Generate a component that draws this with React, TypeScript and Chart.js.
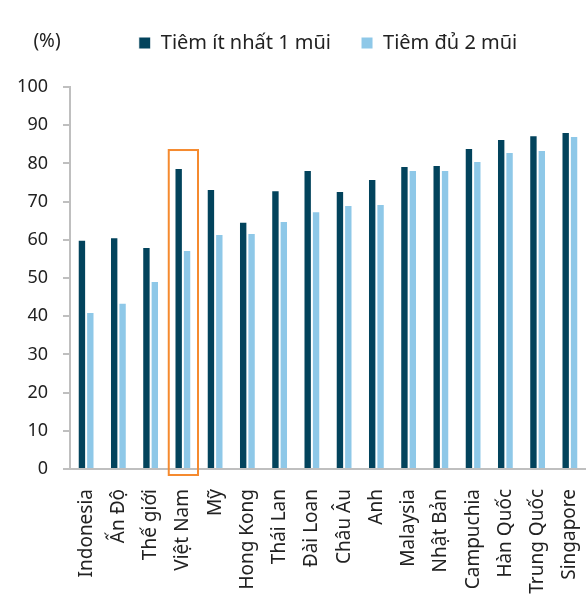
import React, { useEffect, useRef } from "react";
import { Chart, registerables } from "chart.js";

Chart.register(...registerables);

const categories = [
  "Indonesia",
  "Ấn Độ",
  "Thế giới",
  "Việt Nam",
  "Mỹ",
  "Hong Kong",
  "Thái Lan",
  "Đài Loan",
  "Châu Âu",
  "Anh",
  "Malaysia",
  "Nhật Bản",
  "Campuchia",
  "Hàn Quốc",
  "Trung Quốc",
  "Singapore",
];

const atLeastOneDose = [60.0, 60.7, 58.1, 78.8, 73.3, 64.7, 73.0, 78.3, 72.8, 75.9, 79.3, 79.6, 84.0, 86.4, 87.4, 88.2];
const fullyVaccinated = [41.1, 43.5, 49.2, 57.3, 61.5, 61.8, 64.9, 67.5, 69.1, 69.4, 78.3, 78.3, 80.6, 83.0, 83.5, 87.2];

const seriesNames = ["Tiêm ít nhất 1 mũi", "Tiêm đủ 2 mũi"];
const yTicks = [0, 10, 20, 30, 40, 50, 60, 70, 80, 90, 100];
const unitLabel = "(%)";
const highlightIndex = 3;
const highlightTop = 83.5;

const FONT = "'Noto Sans', 'Open Sans', sans-serif";

// Extra room between the legend row and the plot
const legendSpacer = {
  id: "legendSpacer",
  beforeInit(chart: any) {
    const legend = chart.legend;
    if (!legend) return;
    const fit = legend.fit;
    legend.fit = function () {
      fit.call(this);
      this.height += 24;
    };
  },
};

// Draws the "(%)" unit label and the orange frame around the highlighted category
const extrasPlugin = {
  id: "extras",
  afterDraw(chart: any) {
    const { ctx, chartArea, scales } = chart;
    const legend = chart.legend;
    ctx.save();
    ctx.font = `19px ${FONT}`;
    ctx.fillStyle = "#222";
    ctx.textAlign = "center";
    ctx.textBaseline = "middle";
    const ly = legend && legend.legendHitBoxes && legend.legendHitBoxes.length
      ? legend.legendHitBoxes[0].top + legend.legendHitBoxes[0].height / 2 - 1
      : 42;
    ctx.fillText(unitLabel, chartArea.left - 23, ly);

    const x = scales.x;
    const y = scales.y;
    const cx = x.getPixelForValue(highlightIndex);
    const half = (chartArea.right - chartArea.left) / categories.length / 2;
    const left = cx - half + 2;
    const right = cx + half - 1;
    const top = y.getPixelForValue(highlightTop);
    const bottom = y.getPixelForValue(0) + 6;
    ctx.strokeStyle = "#f58a2f";
    ctx.lineWidth = 2;
    ctx.strokeRect(left, top, right - left, bottom - top);
    ctx.restore();
  },
};

export default function App() {
  const canvasRef = useRef<HTMLCanvasElement | null>(null);

  useEffect(() => {
    if (!canvasRef.current) return;
    const chart = new Chart(canvasRef.current, {
      type: "bar",
      data: {
        labels: categories,
        datasets: [
          {
            label: seriesNames[0],
            data: atLeastOneDose,
            backgroundColor: "#02435c",
            borderColor: "#ffffff",
            borderWidth: 1,
            borderSkipped: "bottom",
          },
          {
            label: seriesNames[1],
            data: fullyVaccinated,
            backgroundColor: "#8ec8e8",
            borderColor: "#ffffff",
            borderWidth: 1,
            borderSkipped: "bottom",
          },
        ],
      },
      options: {
        responsive: false,
        animation: false,
        layout: { padding: { top: 3, left: 0, right: 0, bottom: 0 } },
        datasets: {
          bar: { categoryPercentage: 0.52, barPercentage: 1 },
        },
        plugins: {
          legend: {
            position: "top",
            fullSize: false,
            labels: {
              font: { family: FONT, size: 20 },
              color: "#222",
              boxWidth: 12,
              boxHeight: 12,
              padding: 30,
            },
          },
          tooltip: { enabled: false },
        },
        scales: {
          x: {
            grid: { display: false },
            border: { display: true, color: "#bfbfbf", width: 2 },
            afterFit(scale: any) {
              scale.paddingLeft = 0;
              scale.paddingRight = 0;
              scale.height = 136;
            },
            ticks: {
              font: { family: FONT, size: 19 },
              color: "#222",
              maxRotation: 90,
              minRotation: 90,
              padding: 12,
              autoSkip: false,
            },
          },
          y: {
            min: 0,
            max: 100,
            afterBuildTicks(scale: any) {
              scale.ticks = yTicks.map((v) => ({ value: v }));
            },
            afterFit(scale: any) {
              scale.width = 70;
            },
            grid: {
              display: true,
              drawOnChartArea: false,
              drawTicks: true,
              tickLength: 7,
              color: "#bfbfbf",
              lineWidth: 2,
            },
            border: { display: true, color: "#bfbfbf", width: 2 },
            ticks: {
              font: { family: FONT, size: 18 },
              color: "#222",
              padding: 15,
            },
          },
        },
      },
      plugins: [legendSpacer, extrasPlugin],
    });
    return () => chart.destroy();
  }, []);

  return (
    <div style={{ position: "absolute", left: 0, top: 0, width: 586, height: 605, background: "#fff" }}>
      <canvas ref={canvasRef} width={586} height={605} />
    </div>
  );
}
